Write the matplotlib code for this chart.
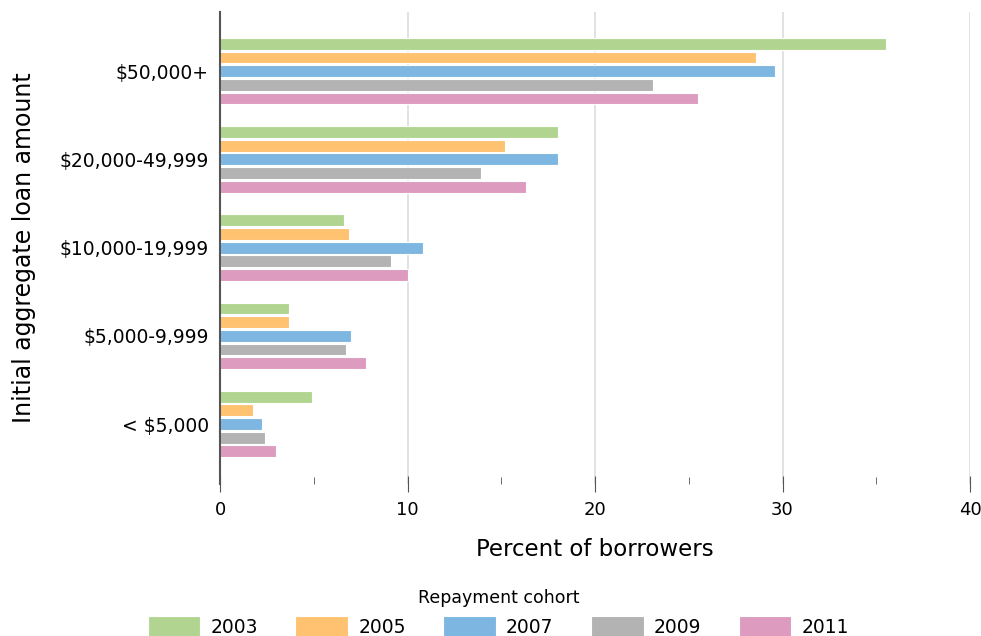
import numpy as np
import matplotlib.pyplot as plt

plt.switch_backend('Agg')

# Loan amount buckets, top to bottom
categories = ['$50,000+', '$20,000-49,999', '$10,000-19,999', '$5,000-9,999', '< $5,000']
cohorts = ['2003', '2005', '2007', '2009', '2011']

# Percent of borrowers per cohort (same order as categories)
pct_2003 = [35.5, 18.0, 6.6, 3.7, 4.9]
pct_2005 = [28.6, 15.2, 6.9, 3.7, 1.75]
pct_2007 = [29.6, 18.0, 10.8, 7.0, 2.25]
pct_2009 = [23.1, 13.9, 9.1, 6.7, 2.4]
pct_2011 = [25.5, 16.3, 10.0, 7.8, 3.0]
series = [pct_2003, pct_2005, pct_2007, pct_2009, pct_2011]

colors = ['#b1d591', '#fec271', '#7eb6e2', '#b3b3b3', '#dc9bbf']

fig = plt.figure(figsize=(9.81, 6.36), dpi=100)
ax = fig.add_axes([0.2243, 0.239, 0.7645, 0.742])

y = np.arange(len(categories))
pitch = 0.155
for i, (vals, col, lab) in enumerate(zip(series, colors, cohorts)):
    ax.barh(y + (i - 2) * pitch, vals, height=0.135, color=col,
            edgecolor='white', linewidth=0.8, label=lab, zorder=3)

ax.set_ylim(len(categories) - 1 + 0.68, -0.67)
ax.set_xlim(0, 40)
ax.set_yticks(y)
ax.set_yticklabels(categories, fontsize=13.5)
ax.set_xticks([0, 10, 20, 30, 40])
ax.set_xticks([5, 15, 25, 35], minor=True)
ax.tick_params(axis='x', which='major', labelsize=13, length=12, direction='inout',
               color='#555555', pad=6)
ax.tick_params(axis='x', which='minor', length=5, direction='in', color='#555555')
ax.tick_params(axis='y', length=0, pad=8)
ax.grid(axis='x', color='#dddddd', linewidth=1.2, zorder=0)

for s in ['top', 'right', 'bottom']:
    ax.spines[s].set_visible(False)
ax.spines['left'].set_color('#555555')
ax.spines['left'].set_linewidth(1.5)
ax.spines['left'].set_zorder(5)

ax.set_xlabel('Percent of borrowers', fontsize=16.5, labelpad=14)
ax.set_ylabel('Initial aggregate loan amount', fontsize=17, labelpad=17)

handles, labels = ax.get_legend_handles_labels()
leg = fig.legend(handles, labels, loc='upper center', bbox_to_anchor=(0.508, 0.101),
                 ncol=5, frameon=False, fontsize=13.5, title='Repayment cohort',
                 title_fontsize=12.5, handlelength=2.8, handleheight=1.4,
                 columnspacing=2.0, handletextpad=0.55)

plt.savefig('out.png', dpi=100)
plt.close()
